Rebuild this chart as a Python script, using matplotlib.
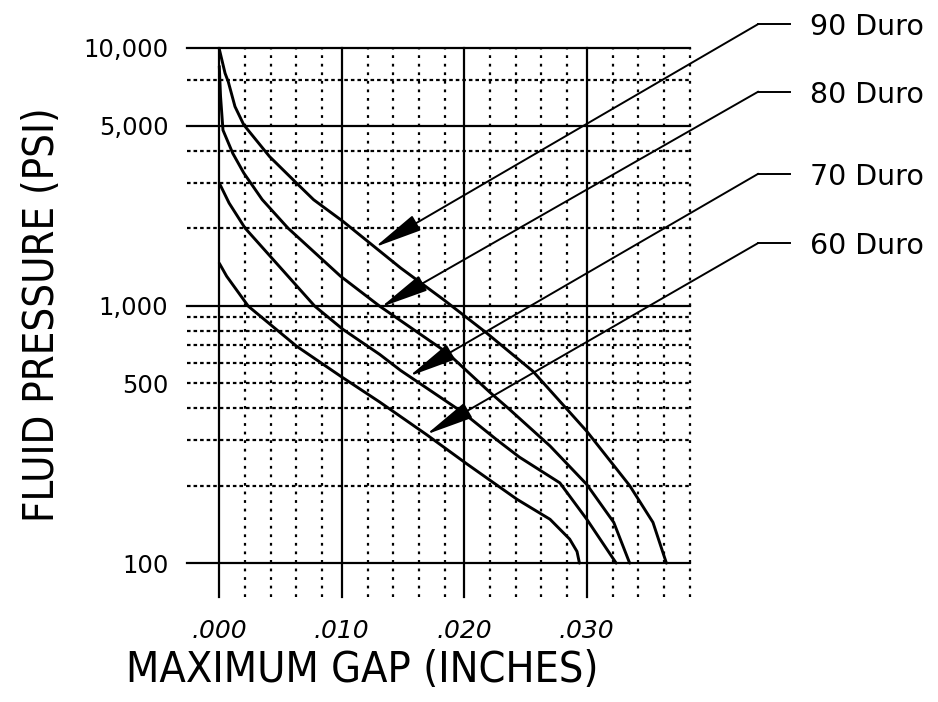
import numpy as np
import matplotlib
matplotlib.use("Agg")
import matplotlib.pyplot as plt
from matplotlib import font_manager
from matplotlib.ticker import NullLocator

# ---------------- data ----------------
gap_90 = [0.0000, 0.00047, 0.00073, 0.00128, 0.0020, 0.0041, 0.0063, 0.0077,
          0.0101, 0.0148, 0.0183, 0.0218, 0.0256, 0.0300, 0.0335, 0.0354, 0.0365]
psi_90 = [9900, 7980, 7400, 5924, 5030, 3790, 2990, 2576,
          2122, 1400, 1055, 784, 556, 325, 200, 144, 100]

gap_80 = [0.0000, 0.0001, 0.0003, 0.0011, 0.0020, 0.0035, 0.0056, 0.0099,
          0.0131, 0.0186, 0.0221, 0.0237, 0.0270, 0.0300, 0.0322, 0.0335]
psi_80 = [8500, 6500, 4800, 3900, 3270, 2580, 2000, 1300,
          994, 656, 460, 395, 285, 202, 144, 100]

gap_70 = [0.0000, 0.0008, 0.0021, 0.0078, 0.0101, 0.0131, 0.0148, 0.0199,
          0.0227, 0.0245, 0.0278, 0.0300, 0.0324]
psi_70 = [2990, 2500, 2000, 994, 808, 646, 560, 384,
          300, 258, 205, 148, 100]

gap_60 = [0.0000, 0.0006, 0.00237, 0.0063, 0.0099, 0.0131, 0.0169,
          0.0202, 0.0243, 0.0270, 0.0286, 0.0292, 0.0294]
psi_60 = [1460, 1300, 994, 696, 532, 422, 316,
          243, 177, 148, 124, 111, 100]

series_gap = [gap_90, gap_80, gap_70, gap_60]
series_psi = [psi_90, psi_80, psi_70, psi_60]
series_labels = ["90 Duro", "80 Duro", "70 Duro", "60 Duro"]
arrow_tip_gap = [0.0127, 0.0132, 0.0155, 0.0169]
label_psi = [12390, 6770, 3250, 1750]

x_ticks = [0.000, 0.010, 0.020, 0.030]
x_tick_labels = [".000", ".010", ".020", ".030"]
x_minor_offsets = [0.0021, 0.0042, 0.0063, 0.0084]
y_ticks = [100, 500, 1000, 5000, 10000]
y_tick_labels = ["100", "500", "1,000", "5,000", "10,000"]
y_major_lines = [100, 1000, 5000, 10000]
y_minor_lines = [200, 300, 400, 500, 600, 700, 800, 900, 2000, 3000, 4000, 7500]

x_title = "MAXIMUM GAP (INCHES)"
y_title = "FLUID PRESSURE (PSI)"

# ---------------- fonts ----------------
fl = font_manager.fontManager.ttflist
names = {f.name for f in fl}
if "Liberation Sans Narrow" in names:
    title_kw = dict(family=["Liberation Sans Narrow", "DejaVu Sans"])
    ytitle_size, xtitle_size = 32, 35
elif any(f.name == "DejaVu Sans" and f.stretch == "condensed" for f in fl):
    title_kw = dict(family=["DejaVu Sans"], fontstretch="condensed")
    ytitle_size, xtitle_size = 30, 31
else:
    title_kw = dict(family=["DejaVu Sans"])
    ytitle_size, xtitle_size = 26.5, 28

# ---------------- figure ----------------
W, H = 938, 702
fig = plt.figure(figsize=(W / 100, H / 100), dpi=100)
ax = fig.add_axes([187 / W, 105 / H, 503 / W, 549 / H])
ax.set_yscale("log")
ax.set_xlim(-0.002637, 0.038424)
ax.set_ylim(73.9, 10000)
for s in ax.spines.values():
    s.set_visible(False)

grid_lw = 1.6
# horizontal grid
for y in y_major_lines:
    ax.axhline(y, color="black", lw=grid_lw, clip_on=False, zorder=1)
for y in y_minor_lines:
    ax.axhline(y, color="black", lw=grid_lw, linestyle=(0, (1.6, 1.35)),
               clip_on=False, zorder=1)
# vertical grid
for x in x_ticks:
    ax.axvline(x, color="black", lw=grid_lw, clip_on=False, zorder=1)
    for off in x_minor_offsets:
        ax.axvline(x + off, color="black", lw=grid_lw,
                   linestyle=(0, (1.25, 2.6)), clip_on=False, zorder=1)

# curves
for g, p in zip(series_gap, series_psi):
    ax.plot(g, p, color="black", lw=2.1, solid_joinstyle="round",
            solid_capstyle="round", zorder=3, clip_on=False)

# leaders with arrowheads and labels
stub_x0, stub_x1, text_x = 0.0440, 0.0466, 0.0482
for g, p, tx, ly, lab in zip(series_gap, series_psi, arrow_tip_gap,
                             label_psi, series_labels):
    ty = 10 ** np.interp(tx, g, np.log10(p))
    ax.annotate("", xy=(tx, ty), xytext=(stub_x0, ly),
                arrowprops=dict(arrowstyle="-|>,head_length=30,head_width=5.3",
                                mutation_scale=1, lw=1.4, color="black",
                                shrinkA=0, shrinkB=0),
                annotation_clip=False, zorder=4)
    ax.plot([stub_x0, stub_x1], [ly, ly], color="black", lw=1.4,
            clip_on=False, zorder=4)
    ax.text(text_x, ly, lab, ha="left", va="center_baseline", fontsize=20.5,
            family="DejaVu Sans", clip_on=False)

# ticks
ax.yaxis.set_minor_locator(NullLocator())
ax.xaxis.set_minor_locator(NullLocator())
ax.set_yticks(y_ticks, y_tick_labels)
ax.set_xticks(x_ticks, x_tick_labels)
ax.tick_params(axis="y", length=0, pad=13.5, labelsize=17.5)
ax.tick_params(axis="x", length=0, pad=15.5, labelsize=18)
for t in ax.get_xticklabels():
    t.set_fontstyle("italic")

# titles
fig.text(42 / W, 1 - 315 / H, y_title, rotation=90, ha="center", va="center",
         fontsize=ytitle_size, **title_kw)
fig.text(362 / W, 1 - 670 / H, x_title, ha="center", va="center",
         fontsize=xtitle_size, **title_kw)

fig.savefig("out.png", dpi=100, facecolor="white")
